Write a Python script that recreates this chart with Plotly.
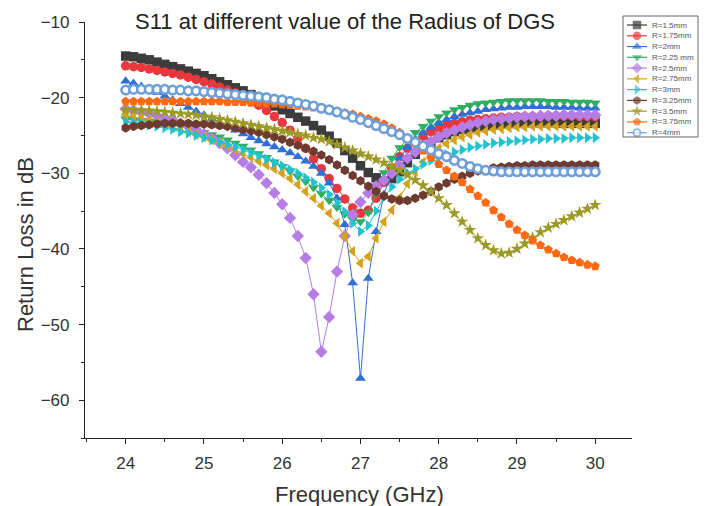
import plotly.graph_objects as go

freq = [round(24 + 0.1 * i, 1) for i in range(61)]

series_names = ["R=1.5mm", "R=1.75mm", "R=2mm", "R=2.25 mm", "R=2.5mm", "R=2.75mm",
                "R=3mm", "R=3.25mm", "R=3.5mm", "R=3.75mm", "R=4mm"]

r_1_50 = [-14.5, -14.6, -14.8, -15.0, -15.3, -15.6, -15.9, -16.2, -16.5, -16.8,
          -17.1, -17.5, -17.9, -18.3, -18.7, -19.1, -19.6, -20.1, -20.6, -21.1,
          -21.6, -22.1, -22.6, -23.1, -23.7, -24.3, -25.1, -26.0, -27.0, -28.0,
          -29.0, -29.9, -30.6, -31.0, -30.7, -29.8, -28.6, -27.5, -26.6, -25.9,
          -25.3, -24.9, -24.5, -24.2, -24.0, -23.8, -23.7, -23.6, -23.5, -23.4,
          -23.4, -23.3, -23.3, -23.3, -23.3, -23.3, -23.4, -23.4, -23.4, -23.4, -23.4]

r_1_75 = [-15.8, -15.9, -16.0, -16.2, -16.4, -16.6, -16.8, -17.0, -17.3, -17.6,
          -17.9, -18.2, -18.6, -19.0, -19.4, -19.9, -20.4, -21.0, -21.7, -22.5,
          -23.3, -24.3, -25.4, -26.7, -28.1, -29.4, -30.7, -32.0, -33.4, -34.6,
          -35.3, -34.9, -33.3, -31.2, -29.3, -27.8, -26.7, -25.8, -25.1, -24.5,
          -24.1, -23.7, -23.4, -23.2, -23.0, -22.9, -22.8, -22.7, -22.6, -22.6,
          -22.5, -22.5, -22.5, -22.5, -22.4, -22.4, -22.4, -22.4, -22.5, -22.5, -22.5]

r_2_00 = [-17.8, -18.1, -18.5, -18.9, -19.3, -19.8, -20.3, -20.8, -21.3, -21.8,
          -22.3, -22.8, -23.3, -23.8, -24.3, -24.8, -25.3, -25.7, -26.1, -26.5,
          -26.9, -27.3, -27.8, -28.4, -29.1, -30.0, -31.3, -33.3, -36.8, -44.5,
          -57.1, -43.9, -37.7, -32.8, -29.8, -28.0, -26.6, -25.5, -24.6, -23.9,
          -23.3, -22.9, -22.5, -22.2, -22.0, -21.8, -21.6, -21.5, -21.4, -21.3,
          -21.3, -21.2, -21.2, -21.2, -21.2, -21.3, -21.3, -21.3, -21.4, -21.4, -21.4]

r_2_25 = [-22.8, -22.9, -23.0, -23.1, -23.2, -23.4, -23.6, -23.8, -24.0, -24.3,
          -24.6, -24.9, -25.2, -25.6, -26.0, -26.4, -26.9, -27.4, -27.9, -28.5,
          -29.1, -29.7, -30.4, -31.1, -31.9, -32.7, -33.6, -34.5, -35.4, -36.1,
          -36.4, -35.2, -32.6, -29.9, -28.0, -26.6, -25.5, -24.6, -23.8, -23.1,
          -22.5, -22.0, -21.6, -21.3, -21.0, -20.8, -20.7, -20.6, -20.5, -20.4,
          -20.4, -20.4, -20.4, -20.4, -20.5, -20.5, -20.5, -20.6, -20.6, -20.6, -20.7]

r_2_50 = [-21.5, -21.7, -21.9, -22.1, -22.4, -22.7, -23.0, -23.4, -23.8, -24.3,
          -24.8, -25.4, -26.0, -26.7, -27.6, -28.5, -29.2, -30.2, -31.3, -32.6,
          -34.1, -35.9, -38.3, -41.2, -46.0, -53.6, -49.0, -43.0, -38.3, -35.5,
          -33.8, -32.6, -31.7, -30.9, -30.0, -29.0, -28.0, -27.2, -26.5, -25.8,
          -25.2, -24.7, -24.3, -23.9, -23.6, -23.3, -23.1, -22.9, -22.8, -22.7,
          -22.6, -22.5, -22.5, -22.4, -22.4, -22.4, -22.3, -22.3, -22.3, -22.3, -22.3]

r_2_75 = [-22.3, -22.5, -22.7, -23.0, -23.3, -23.6, -23.9, -24.2, -24.5, -24.9,
          -25.2, -25.6, -26.0, -26.4, -26.9, -27.4, -27.9, -28.4, -28.9, -29.4,
          -30.0, -30.7, -31.5, -32.4, -33.3, -34.3, -35.3, -36.6, -38.4, -40.3,
          -41.9, -41.0, -38.6, -36.4, -34.9, -33.2, -31.4, -29.8, -28.5, -27.5,
          -26.7, -26.1, -25.6, -25.2, -24.9, -24.6, -24.4, -24.2, -24.1, -24.0,
          -23.9, -23.9, -23.8, -23.8, -23.8, -23.8, -23.8, -23.8, -23.8, -23.8, -23.8]

r_3_00 = [-23.2, -23.3, -23.4, -23.6, -23.8, -24.0, -24.2, -24.5, -24.7, -25.0,
          -25.3, -25.6, -25.9, -26.2, -26.5, -26.9, -27.3, -27.7, -28.1, -28.6,
          -29.0, -29.5, -30.0, -30.6, -31.2, -31.9, -32.8, -33.9, -35.1, -36.6,
          -37.7, -36.9, -35.0, -33.2, -31.8, -30.8, -30.0, -29.4, -28.8, -28.3,
          -27.9, -27.5, -27.2, -26.9, -26.6, -26.4, -26.2, -26.0, -25.9, -25.8,
          -25.7, -25.6, -25.5, -25.5, -25.4, -25.4, -25.4, -25.3, -25.3, -25.3, -25.3]

r_3_25 = [-24.0, -23.8, -23.7, -23.6, -23.5, -23.4, -23.4, -23.4, -23.4, -23.5,
          -23.5, -23.6, -23.7, -23.8, -24.0, -24.2, -24.4, -24.6, -24.9, -25.2,
          -25.5, -25.9, -26.3, -26.7, -27.1, -27.6, -28.2, -28.9, -29.6, -30.3,
          -31.0, -31.7, -32.4, -33.0, -33.4, -33.6, -33.6, -33.3, -32.9, -32.4,
          -31.8, -31.3, -30.8, -30.4, -30.0, -29.7, -29.5, -29.3, -29.2, -29.1,
          -29.0, -29.0, -28.9, -28.9, -28.9, -28.9, -28.9, -28.9, -28.9, -28.9, -28.9]

r_3_50 = [-21.6, -21.6, -21.7, -21.7, -21.8, -21.9, -22.0, -22.1, -22.2, -22.3,
          -22.5, -22.6, -22.8, -23.0, -23.2, -23.4, -23.6, -23.8, -24.0, -24.2,
          -24.4, -24.6, -24.8, -25.0, -25.3, -25.5, -25.8, -26.2, -26.6, -27.0,
          -27.4, -27.8, -28.2, -28.6, -29.1, -29.6, -30.2, -30.9, -31.6, -32.4,
          -33.3, -34.2, -35.3, -36.4, -37.5, -38.6, -39.5, -40.2, -40.6, -40.5,
          -40.0, -39.3, -38.5, -37.8, -37.2, -36.7, -36.2, -35.7, -35.2, -34.7, -34.2]

r_3_75 = [-20.5, -20.5, -20.5, -20.5, -20.5, -20.5, -20.5, -20.5, -20.5, -20.5,
          -20.5, -20.5, -20.5, -20.6, -20.6, -20.6, -20.7, -20.7, -20.8, -20.8,
          -20.9, -21.0, -21.1, -21.2, -21.3, -21.4, -21.6, -21.8, -22.0, -22.2,
          -22.5, -22.8, -23.1, -23.5, -24.0, -24.6, -25.3, -26.1, -27.0, -27.9,
          -28.8, -29.6, -30.4, -31.2, -32.1, -33.0, -33.9, -34.9, -35.8, -36.7,
          -37.5, -38.2, -38.9, -39.5, -40.1, -40.6, -41.1, -41.5, -41.8, -42.1, -42.3]

r_4_00 = [-19.0, -18.9, -18.9, -18.9, -18.9, -18.9, -19.0, -19.0, -19.1, -19.1,
          -19.2, -19.3, -19.4, -19.5, -19.6, -19.7, -19.8, -19.9, -20.0, -20.2,
          -20.3, -20.5, -20.7, -20.9, -21.1, -21.4, -21.6, -21.9, -22.2, -22.6,
          -22.9, -23.3, -23.7, -24.1, -24.5, -24.9, -25.4, -25.9, -26.4, -26.9,
          -27.4, -27.8, -28.3, -28.7, -29.1, -29.4, -29.6, -29.7, -29.8, -29.8,
          -29.8, -29.8, -29.8, -29.8, -29.8, -29.8, -29.8, -29.8, -29.8, -29.8, -29.8]

series_values = [r_1_50, r_1_75, r_2_00, r_2_25, r_2_50, r_2_75,
                 r_3_00, r_3_25, r_3_50, r_3_75, r_4_00]

colors = ["#3c3c3c", "#e8383d", "#2f6fd6", "#2fae62", "#b67de6", "#d4a21a",
          "#22c2d0", "#6e3b31", "#9c9a24", "#ff6a10", "#6f9fd8"]
symbols = ["square", "circle", "triangle-up", "triangle-down", "diamond",
           "triangle-left", "triangle-right", "hexagon", "star", "pentagon", "circle"]

FONT = "Liberation Sans, Arial, sans-serif"

fig = go.Figure()

for name, vals, col, sym in zip(series_names, series_values, colors, symbols):
    if name == "R=4mm":
        marker = dict(symbol=sym, size=8.5, color="white", line=dict(color=col, width=2.6))
    else:
        marker = dict(symbol=sym, size=9.5, color=col, line=dict(width=0))
    fig.add_trace(go.Scatter(x=freq, y=vals, mode="lines+markers", name=name,
                             line=dict(color=col, width=1), marker=marker,
                             showlegend=False, xaxis="x", yaxis="y"))

# hand-drawn legend on an overlay subplot whose ranges equal screen pixels
leg_top = 25.0
leg_step = 10.77
for k, (name, col, sym) in enumerate(zip(series_names, colors, symbols)):
    yc = leg_top + k * leg_step
    if name == "R=4mm":
        marker = dict(symbol=sym, size=[0, 7, 0], color="white", line=dict(color=col, width=2))
    else:
        marker = dict(symbol=sym, size=[0, 8.5, 0], color=col, line=dict(width=0))
    fig.add_trace(go.Scatter(x=[627, 637, 647], y=[yc, yc, yc], mode="lines+markers",
                             line=dict(color=col, width=1.2), marker=marker,
                             showlegend=False, xaxis="x2", yaxis="y2",
                             hoverinfo="skip", cliponaxis=False))
    fig.add_annotation(x=650, y=yc, xref="x2", yref="y2", text=name, showarrow=False,
                       xanchor="left", yanchor="middle",
                       font=dict(family=FONT, size=8, color="#555555"))

fig.add_shape(type="rect", xref="x2", yref="y2", x0=623, x1=698, y0=16, y1=137,
              line=dict(color="#666666", width=1))

# axis titles placed as paper-anchored annotations
fig.add_annotation(x=(359 - 85) / 621, y=(438 - 494) / 428, xref="paper", yref="paper",
                   text="Frequency (GHz)", showarrow=False,
                   xanchor="center", yanchor="middle",
                   font=dict(family=FONT, size=22, color="#333333"))
fig.add_annotation(x=(25 - 85) / 621, y=(438 - 245) / 428, xref="paper", yref="paper",
                   text="Return Loss in dB", showarrow=False,
                   xanchor="center", yanchor="middle", textangle=-90,
                   font=dict(family=FONT, size=22, color="#333333"))

tick_font = dict(family=FONT, size=17, color="#333333")

fig.update_layout(
    width=703, height=498,
    margin=dict(l=77, r=5, t=2, b=68),
    paper_bgcolor="white", plot_bgcolor="rgba(0,0,0,0)",
    showlegend=False,
    title=dict(text="S11 at different value of the Radius of DGS",
               x=337 / 703, xanchor="center", xref="container",
               y=1 - 13 / 498, yanchor="middle", yref="container", automargin=False,
               font=dict(family=FONT, size=22, color="#222222")),
    xaxis=dict(domain=[0, 547 / 621], range=[23.48, 30.47], tickmode="array",
               tickvals=[24, 25, 26, 27, 28, 29, 30], ticks="outside", ticklen=5,
               tickwidth=1.2, tickcolor="#222222", ticklabelstandoff=4,
               minor=dict(dtick=0.5, ticks="outside", ticklen=3, tickcolor="#222222", tickwidth=1),
               showline=True, linecolor="#222222", linewidth=1.2, showgrid=False,
               zeroline=False, tickfont=tick_font, automargin=False, anchor="y"),
    yaxis=dict(domain=[0, 416 / 428], range=[-65, -10], tickmode="array",
               tickvals=[-10, -20, -30, -40, -50, -60], ticks="outside", ticklen=5,
               tickwidth=1.2, tickcolor="#222222", ticklabelstandoff=6,
               minor=dict(dtick=5, ticks="outside", ticklen=3, tickcolor="#222222", tickwidth=1),
               showline=True, linecolor="#222222", linewidth=1.2, showgrid=False,
               zeroline=False, tickfont=tick_font, automargin=False, anchor="x"),
    xaxis2=dict(domain=[0, 1], range=[85, 706], visible=False, anchor="y2", fixedrange=True),
    yaxis2=dict(domain=[0, 1], range=[438, 10], visible=False, anchor="x2", fixedrange=True),
)

fig.write_html("out.html")
